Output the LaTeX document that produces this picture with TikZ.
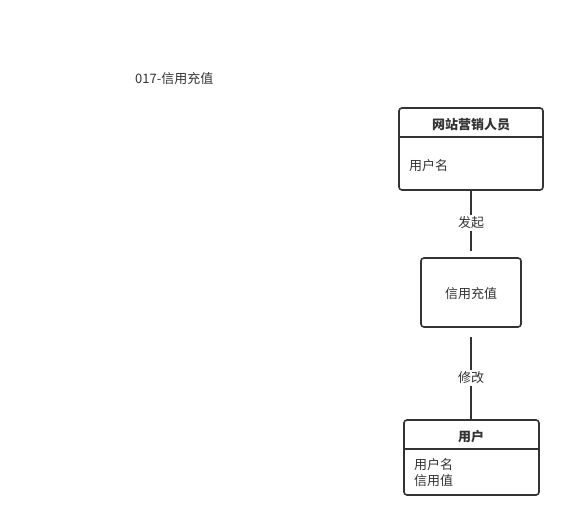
\documentclass[tikz,border=0pt]{standalone}
\usepackage{fontspec}
\setmainfont{Noto Sans CJK SC}
\begin{document}
\begin{tikzpicture}[x=1pt,y=-1pt,
  font=\fontsize{13pt}{16pt}\selectfont,
  box/.style={draw=linec,line width=1.6pt,rounded corners=3pt,fill=white,inner sep=0pt},
  lbl/.style={text=txtc,inner sep=0pt},
  conn/.style={draw=linec,line width=1.6pt},
  elbl/.style={fill=white,text=txtc,inner sep=2pt}]
\definecolor{linec}{HTML}{333333}
\definecolor{txtc}{HTML}{333333}
\useasboundingbox (0,0) rectangle (575,527);
% title
\node[lbl,anchor=west] (title) at (135,79) {017-信用充值};
% box 1
\node[box,minimum width=144pt,minimum height=82pt] (b1) at (471,149) {};
\draw[conn] ([yshift=-30pt]b1.north west) -- ([yshift=-30pt]b1.north east);
\node[lbl,font=\fontsize{13pt}{16pt}\selectfont\bfseries] (b1h) at (471,125) {网站营销人员};
\node[lbl,anchor=west] (b1a) at (409,166) {用户名};
% box 2
\node[box,minimum width=100pt,minimum height=69pt] (b2) at (471,292.5) {};
\node[lbl] (b2t) at (471,294) {信用充值};
% box 3
\node[box,minimum width=135pt,minimum height=75pt] (b3) at (471.5,457.5) {};
\draw[conn] ([yshift=-30pt]b3.north west) -- ([yshift=-30pt]b3.north east);
\node[lbl,font=\fontsize{13pt}{16pt}\selectfont\bfseries] (b3h) at (471,437) {用户};
\node[lbl,anchor=west] (b3a) at (414,465) {用户名};
\node[lbl,anchor=west] (b3b) at (414,481) {信用值};
% connectors
\draw[conn,shorten >=6pt] (b1.south) -- (b1.south |- b2.north);
\node[elbl] (e1) at (471,223) {发起};
\draw[conn,shorten <=9pt] (b2.south) -- (b2.south |- b3.north);
\node[elbl] (e2) at (471,378) {修改};
\end{tikzpicture}
\end{document}
